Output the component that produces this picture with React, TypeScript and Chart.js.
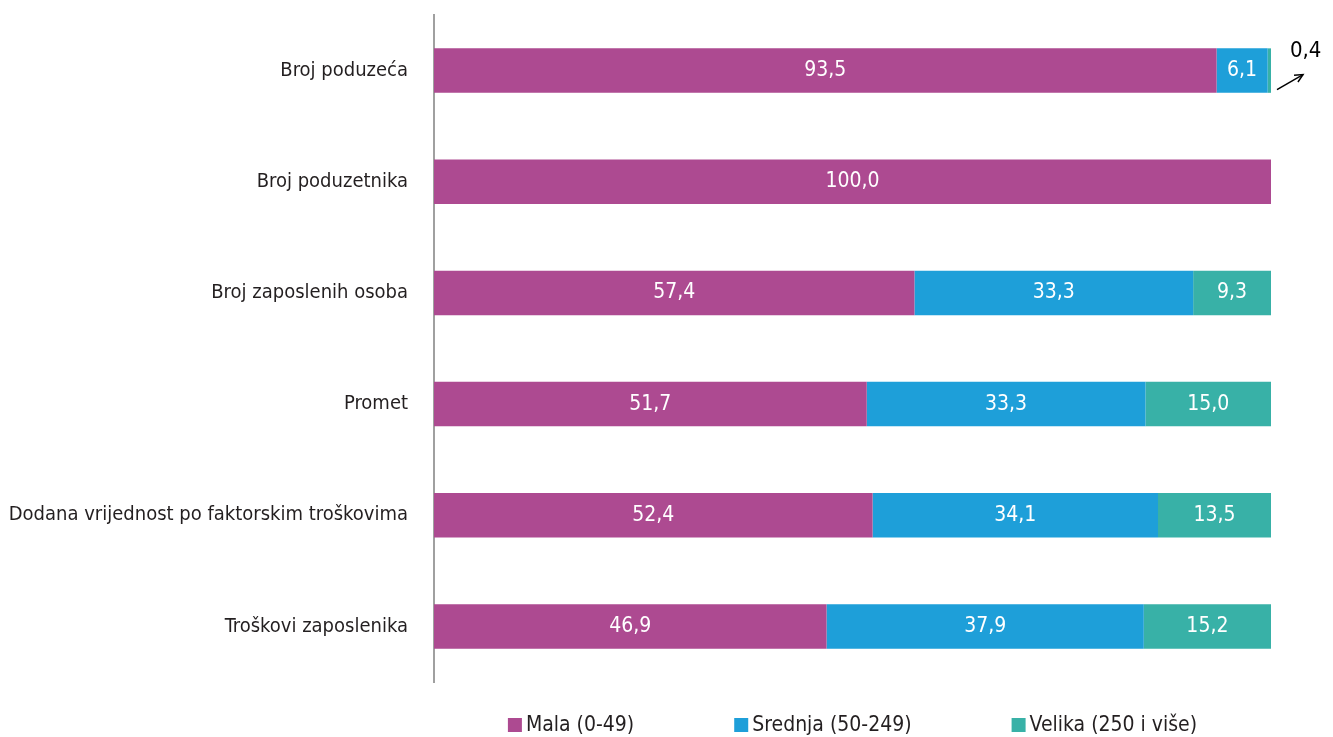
import React, { useEffect, useRef } from 'react';
import { Chart, registerables } from 'chart.js';
Chart.register(...registerables);

const categories = [
  'Broj poduzeća',
  'Broj poduzetnika',
  'Broj zaposlenih osoba',
  'Promet',
  'Dodana vrijednost po faktorskim troškovima',
  'Troškovi zaposlenika',
];
const seriesNames = ['Mala (0-49)', 'Srednja (50-249)', 'Velika (250 i više)'];
const mala = [93.5, 100.0, 57.4, 51.7, 52.4, 46.9];
const srednja = [6.1, 0, 33.3, 33.3, 34.1, 37.9];
const velika = [0.4, 0, 9.3, 15.0, 13.5, 15.2];
const seriesColors = ['#AD4A91', '#1E9FD9', '#38B1A7'];

const FONT = "'Liberation Sans Narrow','DejaVu Sans Condensed','Arial Narrow',sans-serif";
const TEXT = '#231F20';

const fmt = (v: number) => v.toFixed(1).replace('.', ',');

const labelsPlugin = {
  id: 'valueLabels',
  afterDatasetsDraw(chart: any) {
    const ctx = chart.ctx;
    ctx.save();
    ctx.textBaseline = 'middle';
    chart.data.datasets.forEach((ds: any, di: number) => {
      const meta = chart.getDatasetMeta(di);
      meta.data.forEach((el: any, i: number) => {
        const v = ds.data[i] as number;
        if (!v) return;
        const { x, base, y } = el.getProps(['x', 'base', 'y'], true);
        if (v >= 2) {
          ctx.font = `21px ${FONT}`;
          ctx.fillStyle = '#FFFFFF';
          ctx.textAlign = 'center';
          ctx.fillText(fmt(v), (x + base) / 2, y);
        } else {
          // small value: label outside with arrow
          ctx.fillStyle = '#000000';
          ctx.textAlign = 'left';
          ctx.font = `22px ${FONT}`;
          ctx.fillText(fmt(v), x + 19, y - 19);
          ctx.strokeStyle = '#000000';
          ctx.lineWidth = 1.5;
          const x1 = x + 6, y1 = y + 19, x2 = x + 32, y2 = y + 4;
          ctx.beginPath();
          ctx.moveTo(x1, y1);
          ctx.lineTo(x2, y2);
          ctx.stroke();
          const ang = Math.atan2(y2 - y1, x2 - x1);
          const hl = 9;
          ctx.beginPath();
          ctx.moveTo(x2 - hl * Math.cos(ang - 0.45), y2 - hl * Math.sin(ang - 0.45));
          ctx.lineTo(x2, y2);
          ctx.lineTo(x2 - hl * Math.cos(ang + 0.45), y2 - hl * Math.sin(ang + 0.45));
          ctx.stroke();
        }
      });
    });
    ctx.restore();
  },
};

const legendPlugin = {
  id: 'bottomLegend',
  afterDraw(chart: any) {
    const ctx = chart.ctx;
    const area = chart.chartArea;
    ctx.save();
    ctx.font = `21px ${FONT}`;
    ctx.textBaseline = 'middle';
    ctx.textAlign = 'left';
    const box = 14, gap = 4, spacing = 100;
    const items = chart.data.datasets.map((ds: any) => ({
      label: ds.label as string,
      color: ds.backgroundColor as string,
      w: ctx.measureText(ds.label).width,
    }));
    const total = items.reduce((s: number, it: any) => s + box + gap + it.w, 0) + spacing * (items.length - 1);
    let x = (area.left + area.right) / 2 - total / 2;
    const y = 725;
    items.forEach((it: any) => {
      ctx.fillStyle = it.color;
      ctx.fillRect(x, y - box / 2, box, box);
      ctx.fillStyle = TEXT;
      ctx.fillText(it.label, x + box + gap, y + 1);
      x += box + gap + it.w + spacing;
    });
    ctx.restore();
  },
};

export default function App() {
  const ref = useRef<HTMLCanvasElement>(null);
  useEffect(() => {
    document.body.style.margin = '0';
    const canvas = ref.current!;
    Chart.defaults.font.family = FONT;
    const chart = new Chart(canvas, {
      type: 'bar',
      data: {
        labels: categories,
        datasets: [mala, srednja, velika].map((d, i) => ({
          label: seriesNames[i],
          data: d,
          backgroundColor: seriesColors[i],
          borderWidth: 0,
          categoryPercentage: 1,
          barPercentage: 0.4,
        })),
      },
      options: {
        indexAxis: 'y',
        responsive: false,
        animation: false,
        layout: { padding: { top: 15, bottom: 55, right: 62, left: 0 } },
        plugins: {
          legend: { display: false },
          tooltip: { enabled: false },
        },
        scales: {
          x: { stacked: true, min: 0, max: 100, display: false },
          y: {
            stacked: true,
            grid: { display: false, drawTicks: false },
            border: { display: true, color: '#A0A0A0', width: 2 },
            ticks: { color: TEXT, font: { size: 20, family: FONT }, padding: 26 },
            afterFit: (scale: any) => {
              scale.width = 434;
              scale.paddingTop = 0;
              scale.paddingBottom = 0;
            },
          },
        },
      },
      plugins: [labelsPlugin, legendPlugin],
    });
    return () => chart.destroy();
  }, []);
  return (
    <div style={{ width: 1333, height: 737 }}>
      <canvas ref={ref} width={1333} height={737} style={{ width: 1333, height: 737, display: 'block' }} />
    </div>
  );
}
